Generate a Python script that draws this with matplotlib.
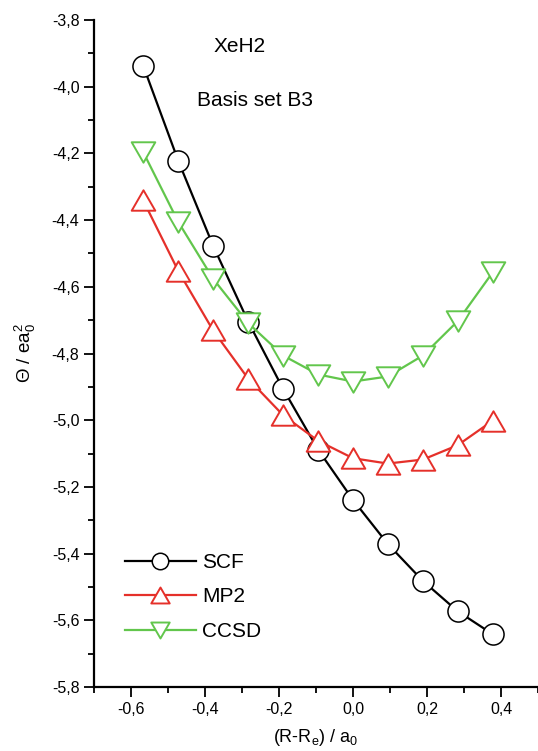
import matplotlib
matplotlib.use('Agg')
import matplotlib.pyplot as plt
from matplotlib.path import Path
from matplotlib.ticker import MultipleLocator, FuncFormatter

plt.rcParams['font.family'] = ['Liberation Sans', 'DejaVu Sans']
plt.rcParams['mathtext.fontset'] = 'custom'
plt.rcParams['mathtext.rm'] = 'Liberation Sans'
plt.rcParams['mathtext.it'] = 'Liberation Sans'

# displacement (R-Re) in bohr
dr = [-0.567, -0.472, -0.378, -0.283, -0.189, -0.094, 0.0, 0.094, 0.189, 0.283, 0.378]

# quadrupole moment Theta / e a0^2
scf = [-3.937, -4.223, -4.477, -4.705, -4.906, -5.089, -5.239, -5.371, -5.482, -5.573, -5.642]
mp2 = [-4.341, -4.553, -4.731, -4.876, -4.985, -5.062, -5.114, -5.130, -5.118, -5.075, -5.001]
ccsd = [-4.196, -4.406, -4.576, -4.709, -4.806, -4.863, -4.884, -4.869, -4.806, -4.703, -4.556]

red = '#e5302a'
green = '#62c64c'

fig = plt.figure(figsize=(5.38, 7.51), dpi=100)
ax = fig.add_axes([94 / 538, 64 / 751, 444 / 538, 667 / 751])

# equilateral-ish triangles (closed paths)
tri_up = Path([(0, 0.866), (-1, -0.866), (1, -0.866), (0, 0.866)], closed=True)
tri_dn = Path([(0, -0.866), (-1, 0.866), (1, 0.866), (0, -0.866)], closed=True)

ax.plot(dr, scf, color='black', lw=1.6, marker='o', ms=15.2, mfc='white',
        mec='black', mew=1.1, label='SCF', zorder=2)
ax.plot(dr, mp2, color=red, lw=1.6, marker=tri_up, ms=17, mfc='white',
        mec=red, mew=1.4, label='MP2', zorder=3)
ax.plot(dr, ccsd, color=green, lw=1.6, marker=tri_dn, ms=17, mfc='white',
        mec=green, mew=1.4, label='CCSD', zorder=4)

ax.set_xlim(-0.7, 0.5)
ax.set_ylim(-5.8, -3.8)
ax.xaxis.set_major_locator(MultipleLocator(0.2))
ax.xaxis.set_minor_locator(MultipleLocator(0.1))
ax.yaxis.set_major_locator(MultipleLocator(0.2))
ax.yaxis.set_minor_locator(MultipleLocator(0.1))

comma = FuncFormatter(lambda v, p: f'{v:.1f}'.replace('.', ',').replace('-0,0', '0,0'))
ax.xaxis.set_major_formatter(comma)
ax.yaxis.set_major_formatter(comma)

ax.spines['top'].set_visible(False)
ax.spines['right'].set_visible(False)
ax.spines['left'].set_linewidth(1.6)
ax.spines['bottom'].set_linewidth(1.6)
ax.tick_params(which='major', direction='out', length=7, width=1.3, labelsize=11.5)
ax.tick_params(which='minor', direction='out', length=4, width=1.3)
ax.tick_params(axis='y', which='major', pad=3.5)
ax.tick_params(axis='x', which='major', pad=4)

ax.set_xlabel('(R-R$_\\mathrm{e}$) / a$_\\mathrm{0}$', fontsize=13, labelpad=7)
ax.set_ylabel('Θ / ea$_\\mathrm{0}^\\mathrm{2}$', fontsize=13.5)
ax.yaxis.set_label_coords(-0.125, 0.5)

fig.text(240 / 538, 1 - 47 / 751, 'XeH2', fontsize=15, ha='center', va='center')
fig.text(255 / 538, 1 - 100 / 751, 'Basis set B3', fontsize=15,
         ha='center', va='center')

ax.legend(loc='upper left', bbox_to_anchor=(125 / 538, 1 - 553 / 751),
          bbox_transform=fig.transFigure, frameon=False, fontsize=15,
          handlelength=3.4, handletextpad=0.3, labelspacing=0.74,
          borderpad=0, borderaxespad=0, markerscale=0.78)

fig.savefig('out.png', dpi=100)
